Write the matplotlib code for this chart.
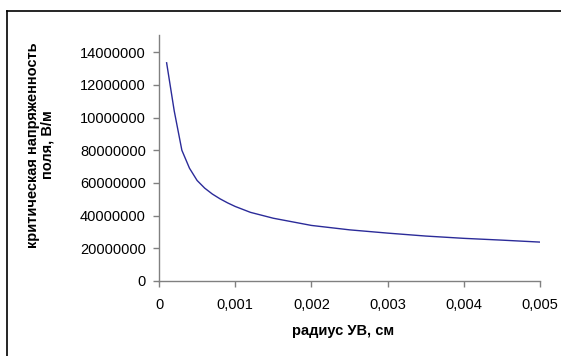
import matplotlib
matplotlib.use("Agg")
import matplotlib.pyplot as plt
from matplotlib.lines import Line2D

plt.rcParams['font.family'] = ['Liberation Sans', 'DejaVu Sans']

# data (radius, cm ; critical field strength, V/m)
radius = [0.0001, 0.0002, 0.0003, 0.0004, 0.0005, 0.0006, 0.0007, 0.0008, 0.0009,
          0.001, 0.0012, 0.0015, 0.002, 0.0025, 0.003, 0.0035, 0.004, 0.0045, 0.005]
field = [133.5e6, 104e6, 80e6, 69e6, 61.5e6, 56.8e6, 53.2e6, 50.3e6, 47.8e6,
         45.6e6, 42e6, 38.4e6, 34e6, 31.3e6, 29.3e6, 27.5e6, 26.1e6, 25e6, 23.8e6]

y_ticks = [0, 20e6, 40e6, 60e6, 80e6, 100e6, 120e6, 140e6]
y_tick_labels = ["0", "20000000", "40000000", "60000000", "80000000",
                 "10000000", "12000000", "14000000"]
x_ticks = [0, 0.001, 0.002, 0.003, 0.004, 0.005]
x_tick_labels = ["0", "0,001", "0,002", "0,003", "0,004", "0,005"]

x_label = "радиус УВ, см"
y_label = "критическая напряженность\nполя, В/м"

W, H = 561, 356
fig = plt.figure(figsize=(W / 100, H / 100), dpi=100)
ax = fig.add_axes([159 / W, 1 - 281 / H, (540 - 159) / W, (281 - 35) / H])

ax.plot(radius, field, color='#2B2B99', lw=1.0)

ax.set_xlim(0, 0.005)
ax.set_ylim(0, 150.5e6)
ax.set_xticks(x_ticks)
ax.set_xticklabels(x_tick_labels)
ax.set_yticks(y_ticks)
ax.set_yticklabels(y_tick_labels)

for s in ['top', 'right']:
    ax.spines[s].set_visible(False)
for s in ['left', 'bottom']:
    ax.spines[s].set_color('#808080')
    ax.spines[s].set_linewidth(1.0)
ax.tick_params(axis='both', colors='#808080', length=4.5, width=1.0,
               direction='out', labelcolor='black', labelsize=10.5)
ax.tick_params(axis='x', pad=8)
ax.tick_params(axis='y', pad=5)

fig.text(343 / W, 1 - 331 / H, x_label, ha='center', va='center',
         fontsize=10.5, fontweight='bold')
fig.text(40 / W, 1 - 145 / H, y_label, ha='center', va='center',
         fontsize=10.5, fontweight='bold', rotation=90, multialignment='center',
         linespacing=1.05)

# outer chart border (left and top visible)
fig.add_artist(Line2D([7 / W, 7 / W], [0, 1 - 11 / H], color='black', lw=1.2,
                      transform=fig.transFigure))
fig.add_artist(Line2D([7 / W, 1], [1 - 11 / H, 1 - 11 / H], color='black', lw=1.2,
                      transform=fig.transFigure))

fig.savefig("out.png", dpi=100)
